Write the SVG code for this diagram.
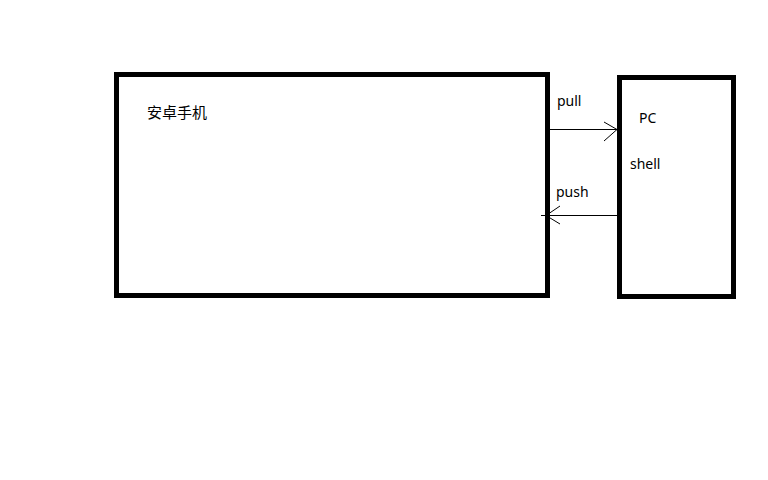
<svg xmlns="http://www.w3.org/2000/svg" width="768" height="480" viewBox="0 0 768 480">
<style>
.box{fill:#fff;stroke:#000;stroke-width:5}
.t{font-family:"Noto Sans","Noto Sans CJK SC",sans-serif;font-size:14px;fill:#000}
.c{font-family:"Noto Sans CJK SC",sans-serif;font-size:15px;fill:#000}
.ln{stroke:#000;stroke-width:1;fill:none}
</style>
<rect width="768" height="480" fill="#fff"/>
<g id="phone">
<rect class="box" x="116.5" y="74.5" width="431" height="221"/>
<text class="c" x="147" y="118">安卓手机</text>
</g>
<g id="pc">
<rect class="box" x="619.5" y="77.5" width="114" height="219"/>
<text class="t" x="639" y="123">PC</text>
<text class="t" x="630" y="169">shell</text>
</g>
<g id="connectors">
<line class="ln" x1="550" y1="129.5" x2="617" y2="129.5"/>
<polyline class="ln" points="604,122 617,129.5 604,141"/>
<text class="t" x="557" y="106">pull</text>
<line class="ln" x1="617" y1="215.5" x2="541" y2="215.5"/>
<polyline class="ln" points="560,206 546,215.5 560,224"/>
<text class="t" x="556" y="197">push</text>
</g>
</svg>
